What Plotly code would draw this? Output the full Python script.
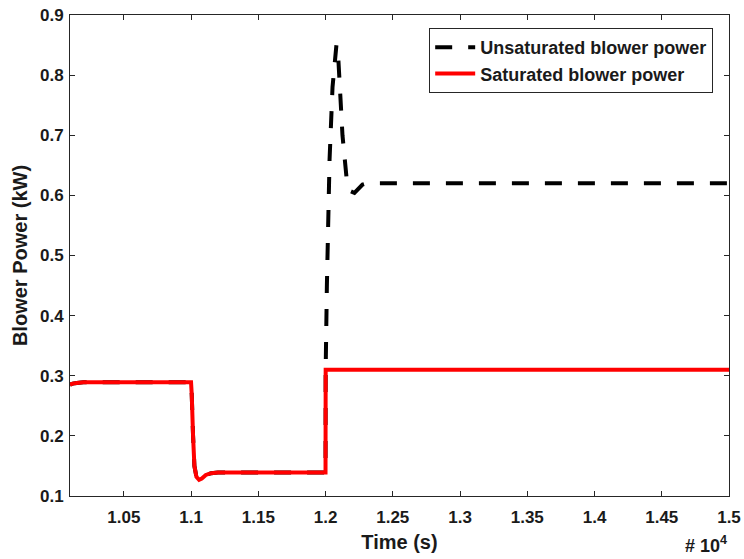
import plotly.graph_objects as go

# Blower power response (time in seconds, power in kW)
t_sat = [10100, 10120, 10150, 10200, 11000, 11005, 11015, 11025, 11040, 11060,
         11080, 11110, 11150, 11200, 12000, 12001, 15000]
p_sat = [0.285, 0.287, 0.288, 0.289, 0.289, 0.27, 0.20, 0.15, 0.132, 0.127,
         0.129, 0.135, 0.138, 0.139, 0.139, 0.31, 0.31]

t_unsat = [10100, 10120, 10150, 10200, 11000, 11005, 11015, 11025, 11040, 11060,
           11080, 11110, 11150, 11200, 12000, 12001, 12010, 12020, 12030, 12052,
           12070, 12081, 12092, 12104, 12126, 12156, 12185, 12215, 12245, 12275,
           12304, 15000]
p_unsat = [0.285, 0.287, 0.288, 0.289, 0.289, 0.27, 0.20, 0.15, 0.132, 0.127,
           0.129, 0.135, 0.138, 0.139, 0.139, 0.31, 0.45, 0.60, 0.66, 0.78,
           0.835, 0.85, 0.84, 0.79, 0.70, 0.63, 0.607, 0.604, 0.612, 0.618,
           0.62, 0.62]

x_tickvals = [10500, 11000, 11500, 12000, 12500, 13000, 13500, 14000, 14500, 15000]
x_ticktext = ["1.05", "1.1", "1.15", "1.2", "1.25", "1.3", "1.35", "1.4", "1.45", "1.5"]
y_tickvals = [0.1, 0.2, 0.3, 0.4, 0.5, 0.6, 0.7, 0.8, 0.9]

FONT = "Liberation Sans"
AX = "#262626"
TXT = "#1a1a1a"

fig = go.Figure()
fig.add_trace(go.Scatter(
    x=t_unsat, y=p_unsat, mode="lines", name="<b>Unsaturated blower power</b>",
    line=dict(color="black", width=4, dash="17px,16px"),
))
fig.add_trace(go.Scatter(
    x=t_sat, y=p_sat, mode="lines", name="<b>Saturated blower power</b>",
    line=dict(color="#ff0000", width=4),
))

axis_common = dict(
    showline=True, linecolor=AX, linewidth=1, mirror="ticks",
    ticks="inside", ticklen=5, tickcolor=AX, showgrid=False, zeroline=False,
    automargin=False,
    tickfont=dict(family=FONT, size=17, color=TXT),
)

fig.update_xaxes(
    range=[10100, 15000], tickvals=x_tickvals,
    ticktext=["<b>%s</b>" % s for s in x_ticktext],
    ticklabelstandoff=6,
    title=dict(text="<b>Time (s)</b>", font=dict(family=FONT, size=20, color=TXT),
               standoff=8),
    **axis_common,
)
fig.update_yaxes(
    range=[0.1, 0.9], tickvals=y_tickvals,
    ticktext=["<b>%.1f</b>" % v for v in y_tickvals],
    ticklabelstandoff=2,
    title=dict(text="<b>Blower Power (kW)</b>", font=dict(family=FONT, size=20, color=TXT),
               standoff=6),
    **axis_common,
)

fig.add_annotation(
    text="<b># 10<sup>4</sup></b>", xref="paper", yref="paper",
    x=1.0, y=-0.072, xanchor="right", yanchor="top", showarrow=False,
    font=dict(family=FONT, size=18, color=TXT),
)

fig.update_layout(
    width=744, height=559,
    margin=dict(l=70, r=15, t=15, b=63),
    plot_bgcolor="white", paper_bgcolor="white",
    font=dict(family=FONT, color=TXT),
    legend=dict(
        x=0.976, y=0.973, xanchor="right", yanchor="top",
        bgcolor="white", bordercolor=AX, borderwidth=1,
        font=dict(family=FONT, size=18, color=TXT),
        tracegroupgap=0, itemwidth=40,
    ),
    showlegend=True,
)

fig.write_html("out.html")
